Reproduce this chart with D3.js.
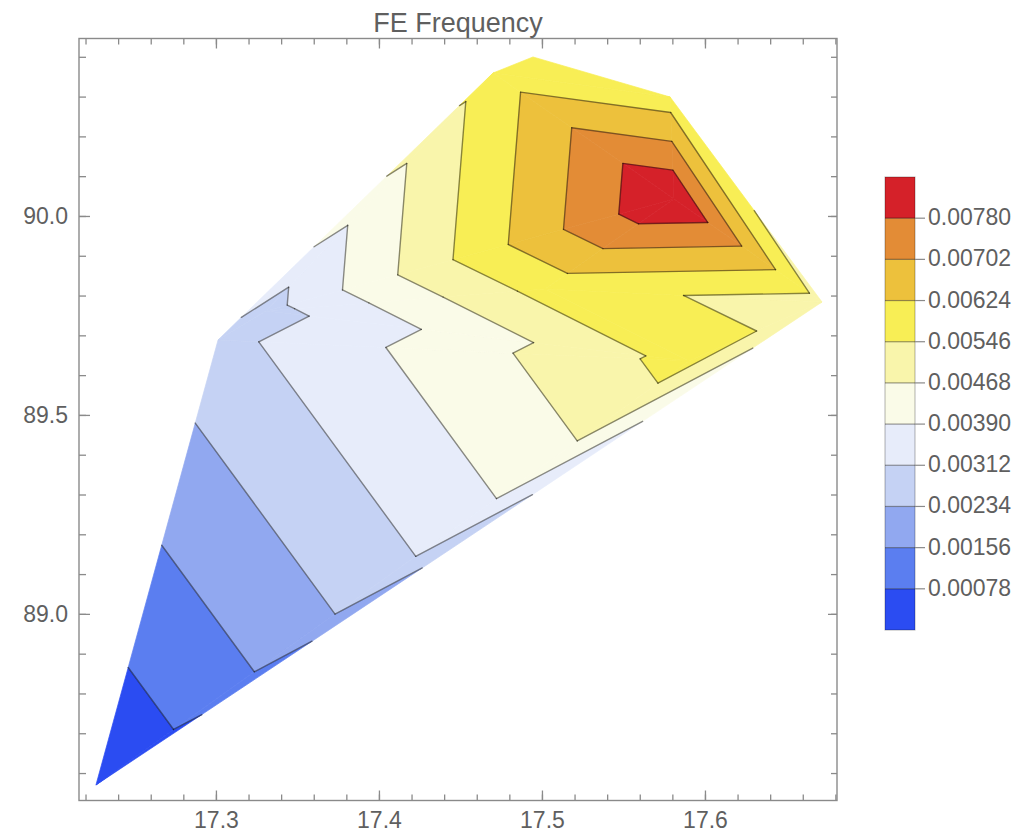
<!DOCTYPE html>
<html>
<head>
<meta charset="utf-8">
<script src="https://cdn.jsdelivr.net/npm/d3@7"></script>
<style>
  body { margin: 0; background: #fff; }
  text { font-family: "Liberation Sans", Arial, sans-serif; fill: #5f5f5f; }
</style>
</head>
<body>
<svg id="chart" width="1035" height="836"></svg>
<script>
// Sample sites and the FE frequency measured at each one
const siteX = [17.2264, 17.3013, 17.3307, 17.4700, 17.4945, 17.5786, 17.6718, 17.5810, 17.5019, 17.5902];
const siteY = [88.5700, 89.6883, 89.7612, 90.3593, 90.3996, 90.2990, 89.7838, 90.0427, 89.8165, 89.6355];
const freq  = [0.00003, 0.00287, 0.00282, 0.00582, 0.00590, 0.00582, 0.00517, 0.00858, 0.00575, 0.00576];

// Triangle mesh joining the sites (indices into the arrays above)
const mesh = [
  [0, 1, 9], [0, 9, 6], [1, 2, 9], [2, 8, 9], [8, 6, 9], [7, 8, 6],
  [7, 2, 8], [2, 3, 7], [1, 3, 2], [3, 5, 7], [3, 4, 5], [5, 6, 7]
];

// Contour levels and the fill of each band, lowest band first
const levels = [0.00078, 0.00156, 0.00234, 0.00312, 0.00390, 0.00468, 0.00546, 0.00624, 0.00702, 0.00780];
const bandColors = ["#2b4cf2", "#5b7ef0", "#91a8f0", "#c5d2f4", "#e7ecfa", "#fafbe8",
                    "#f9f5ab", "#f8ee55", "#edc13c", "#e38c36", "#d52129"];

const title = "FE Frequency";

const svg = d3.select("#chart");
const W = 1035, H = 836;
const plot = { left: 79, right: 837, top: 38.5, bottom: 800.5 };

const x = d3.scaleLinear().domain([17.216, 17.681]).range([plot.left, plot.right]);
const y = d3.scaleLinear().domain([88.531, 90.446]).range([plot.bottom, plot.top]);

svg.append("rect").attr("width", W).attr("height", H).attr("fill", "#fff");

// Mesh vertices in screen space
const verts = siteX.map((d, i) => ({ px: x(d), py: y(siteY[i]), v: freq[i] }));

function lerp(a, b, t) {
  const f = (t - a.v) / (b.v - a.v);
  return { px: a.px + f * (b.px - a.px), py: a.py + f * (b.py - a.py), v: t };
}

// Keep the part of a polygon where the linear field is above (or below) t
function clip(poly, t, above) {
  const out = [];
  for (let i = 0; i < poly.length; i++) {
    const a = poly[i], b = poly[(i + 1) % poly.length];
    const ina = above ? a.v >= t : a.v <= t;
    const inb = above ? b.v >= t : b.v <= t;
    if (ina) out.push(a);
    if (ina !== inb) out.push(lerp(a, b, t));
  }
  return out;
}

const bandPieces = [];
mesh.forEach(tri => {
  const poly = tri.map(i => verts[i]);
  bandColors.forEach((c, k) => {
    let p = poly;
    if (k > 0) p = clip(p, levels[k - 1], true);
    if (p.length >= 3 && k < levels.length) p = clip(p, levels[k], false);
    if (p.length >= 3) bandPieces.push({ pts: p, color: c });
  });
});

const polyPath = pts => "M" + pts.map(p => p.px + "," + p.py).join("L") + "Z";

svg.append("g").selectAll("path")
  .data(bandPieces)
  .join("path")
  .attr("d", d => polyPath(d.pts))
  .attr("fill", d => d.color)
  .attr("stroke", d => d.color)
  .attr("stroke-width", 0.7)
  .attr("stroke-linejoin", "round");

// Contour lines: one straight segment per triangle and level
const segments = [];
mesh.forEach(tri => {
  const poly = tri.map(i => verts[i]);
  levels.forEach(L => {
    const pts = [];
    for (let i = 0; i < 3; i++) {
      const a = poly[i], b = poly[(i + 1) % 3];
      if ((a.v - L) * (b.v - L) < 0) pts.push(lerp(a, b, L));
    }
    if (pts.length === 2) segments.push(pts);
  });
});

svg.append("g").selectAll("path")
  .data(segments)
  .join("path")
  .attr("d", d => `M${d[0].px},${d[0].py}L${d[1].px},${d[1].py}`)
  .attr("fill", "none")
  .attr("stroke", "rgba(0,0,0,0.45)")
  .attr("stroke-width", 1.4)
  .attr("stroke-linecap", "round");

// Frame with inward ticks on all four sides
const tickColor = "#8a8a8a";
function styleAxis(g) {
  g.select(".domain").remove();
  g.selectAll(".tick line").attr("stroke", tickColor).attr("stroke-width", 1.3);
  g.selectAll(".tick text").attr("font-size", 23).attr("fill", "#5f5f5f")
    .attr("font-family", "'Liberation Sans', Arial, sans-serif");
}

const fmt = d3.format(".1f");
svg.append("g").attr("transform", `translate(0,${plot.bottom})`)
  .call(d3.axisBottom(x).ticks(20).tickSize(-6).tickFormat("")).call(styleAxis);
svg.append("g").attr("transform", `translate(0,${plot.bottom})`)
  .call(d3.axisBottom(x).ticks(5).tickSize(-10).tickPadding(11).tickFormat(fmt)).call(styleAxis);
svg.append("g").attr("transform", `translate(0,${plot.top})`)
  .call(d3.axisTop(x).ticks(20).tickSize(-6).tickFormat("")).call(styleAxis);
svg.append("g").attr("transform", `translate(0,${plot.top})`)
  .call(d3.axisTop(x).ticks(5).tickSize(-10).tickFormat("")).call(styleAxis);

svg.append("g").attr("transform", `translate(${plot.left},0)`)
  .call(d3.axisLeft(y).ticks(20).tickSize(-7).tickFormat("")).call(styleAxis);
svg.append("g").attr("transform", `translate(${plot.left},0)`)
  .call(d3.axisLeft(y).ticks(4).tickSize(-11).tickPadding(11).tickFormat(fmt)).call(styleAxis);
svg.append("g").attr("transform", `translate(${plot.right},0)`)
  .call(d3.axisRight(y).ticks(20).tickSize(-6).tickFormat("")).call(styleAxis);
svg.append("g").attr("transform", `translate(${plot.right},0)`)
  .call(d3.axisRight(y).ticks(4).tickSize(-9).tickFormat("")).call(styleAxis);

svg.append("rect")
  .attr("x", plot.left).attr("y", plot.top)
  .attr("width", plot.right - plot.left).attr("height", plot.bottom - plot.top)
  .attr("fill", "none").attr("stroke", tickColor).attr("stroke-width", 1.4);

// Title
svg.append("text")
  .attr("x", (plot.left + plot.right) / 2).attr("y", 31.5)
  .attr("text-anchor", "middle").attr("font-size", 27)
  .text(title);

// Colour legend: one equal-height box per band
const bar = { x: 885, w: 30, top: 177, bottom: 630 };
const by = d3.scaleLinear().domain([0, bandColors.length]).range([bar.bottom, bar.top]);
const legend = svg.append("g");
legend.selectAll("rect.band")
  .data(bandColors)
  .join("rect")
  .attr("class", "band")
  .attr("x", bar.x).attr("width", bar.w)
  .attr("y", (d, i) => by(i + 1)).attr("height", (d, i) => by(i) - by(i + 1))
  .attr("fill", d => d);
legend.selectAll("line.sep")
  .data(levels)
  .join("line")
  .attr("class", "sep")
  .attr("x1", bar.x).attr("x2", bar.x + bar.w)
  .attr("y1", (d, i) => by(i + 1)).attr("y2", (d, i) => by(i + 1))
  .attr("stroke", "rgba(0,0,0,0.4)").attr("stroke-width", 1.2);
legend.append("rect")
  .attr("x", bar.x).attr("y", bar.top).attr("width", bar.w).attr("height", bar.bottom - bar.top)
  .attr("fill", "none").attr("stroke", "rgba(0,0,0,0.3)").attr("stroke-width", 1);
legend.selectAll("line.tk")
  .data(levels)
  .join("line")
  .attr("class", "tk")
  .attr("x1", bar.x + bar.w).attr("x2", bar.x + bar.w + 10)
  .attr("y1", (d, i) => by(i + 1)).attr("y2", (d, i) => by(i + 1))
  .attr("stroke", tickColor).attr("stroke-width", 1.2);
legend.selectAll("text")
  .data(levels)
  .join("text")
  .attr("x", bar.x + bar.w + 13)
  .attr("y", (d, i) => by(i + 1) + 7)
  .attr("font-size", 23)
  .text(d => d3.format(".5f")(d));
</script>
</body>
</html>
